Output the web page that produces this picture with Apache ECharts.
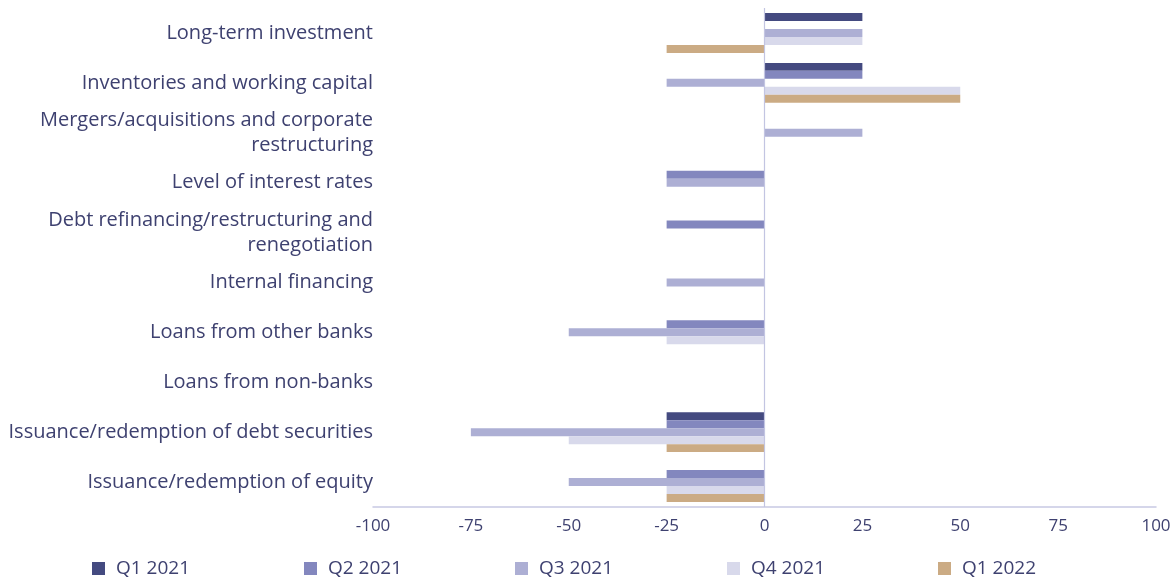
<!DOCTYPE html>
<html>
<head>
<meta charset="utf-8">
<script src="https://cdn.jsdelivr.net/npm/echarts@6/dist/echarts.min.js"></script>
<style>
  html, body { margin: 0; padding: 0; background: #fff; }
  #chart { width: 1176px; height: 579px; }
</style>
</head>
<body>
<div id="chart"></div>
<script>
// categories, top to bottom
const categories = [
  'Long-term investment',
  'Inventories and working capital',
  'Mergers/acquisitions and corporate\nrestructuring',
  'Level of interest rates',
  'Debt refinancing/restructuring and\nrenegotiation',
  'Internal financing',
  'Loans from other banks',
  'Loans from non-banks',
  'Issuance/redemption of debt securities',
  'Issuance/redemption of equity'
];
const seriesNames = ['Q1 2021', 'Q2 2021', 'Q3 2021', 'Q4 2021', 'Q1 2022'];
const q1_2021 = [25, 25, 0, 0, 0, 0, 0, 0, -25, 0];
const q2_2021 = [0, 25, 0, -25, -25, 0, -25, 0, -25, -25];
const q3_2021 = [25, -25, 25, -25, 0, -25, -50, 0, -75, -50];
const q4_2021 = [25, 50, 0, 0, 0, 0, -25, 0, -50, -25];
const q1_2022 = [-25, 50, 0, 0, 0, 0, 0, 0, -25, -25];
const xTicks = [-100, 100, 25]; // min, max, step

const colors = ['#444a80', '#8387be', '#adafd4', '#d8d9eb', '#cbab84'];
const txtColor = '#3e4170';
const allData = [q1_2021, q2_2021, q3_2021, q4_2021, q1_2022];
const legendLeft = [92, 304, 515, 727, 938];

const chart = echarts.init(document.getElementById('chart'));

const series = allData.map((d, i) => {
  const s = {
    name: seriesNames[i],
    type: 'bar',
    data: d,
    barGap: '0%',
    barCategoryGap: '20%',
    itemStyle: { color: colors[i] },
    emphasis: { disabled: true }
  };
  if (i === 0) {
    // vertical line at zero
    s.markLine = {
      silent: true,
      symbol: ['none', 'none'],
      label: { show: false },
      lineStyle: { color: '#c3c5e2', width: 1.2, type: 'solid' },
      data: [{ xAxis: 0 }]
    };
  }
  return s;
});

// one legend per item so each sits where the reference puts it
const legends = seriesNames.map((n, i) => ({
  data: [n],
  left: legendLeft[i],
  top: 559,
  padding: 0,
  itemWidth: 13,
  itemHeight: 13,
  icon: 'rect',
  selectedMode: false,
  textStyle: {
    color: txtColor,
    fontSize: 19,
    padding: [0, 0, 0, 6],
    fontFamily: '"Open Sans", sans-serif'
  }
}));

const option = {
  animation: false,
  textStyle: { fontFamily: '"Open Sans", "Noto Sans", sans-serif' },
  color: colors,
  grid: {
    left: 373,
    right: 20,
    top: 8,
    bottom: 72,
    containLabel: false
  },
  legend: legends,
  xAxis: {
    type: 'value',
    min: xTicks[0],
    max: xTicks[1],
    interval: xTicks[2],
    axisLine: { show: true, onZero: false, lineStyle: { color: '#c8c9e4', width: 1.5 } },
    axisTick: { show: false },
    splitLine: { show: false },
    axisLabel: { color: txtColor, fontSize: 17, margin: 11 }
  },
  yAxis: {
    type: 'category',
    inverse: true,
    data: categories,
    axisLine: { show: false },
    axisTick: { show: false },
    splitLine: { show: false },
    axisLabel: {
      color: txtColor,
      fontSize: 20,
      lineHeight: 25,
      margin: 0,
      align: 'right'
    }
  },
  series: series
};

chart.setOption(option);
</script>
</body>
</html>
